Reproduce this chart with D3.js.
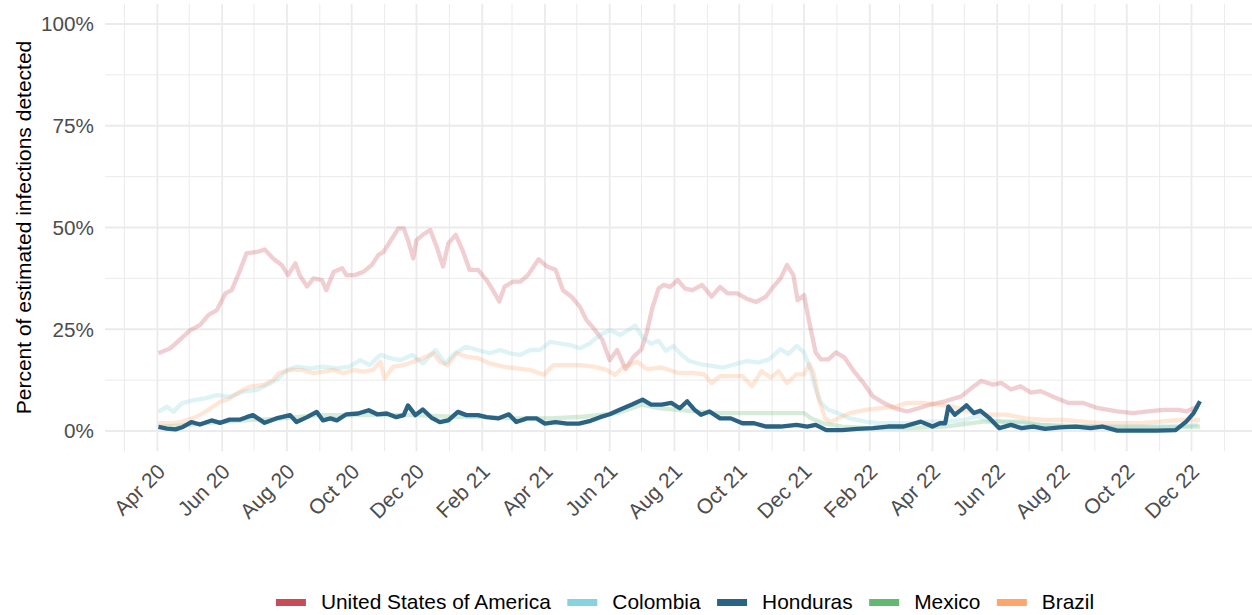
<!DOCTYPE html>
<html>
<head>
<meta charset="utf-8">
<script src="https://cdn.jsdelivr.net/npm/d3@7"></script>
<style>
  body { margin: 0; background: #fff; }
  svg { display: block; font-family: "Liberation Sans", Arial, sans-serif; }
</style>
</head>
<body>
<div id="chart"></div>
<script>
// days since 2020-04-01 and percent of estimated infections detected
var usDay = [1,12,21,31,40,48,56,64,70,78,84,94,101,109,117,123,130,134,141,147,155,159,166,174,178,186,194,202,208,213,219,227,232,236,241,244,250,257,263,269,274,281,288,294,302,310,316,322,327,335,342,349,359,367,375,382,390,398,404,411,419,426,433,441,448,456,461,466,472,477,483,490,497,504,513,522,530,537,546,555,564,573,580,587,593,599,603,609,614,620,625,632,639,647,656,665,674,684,695,706,717,728,742,757,767,776,787,795,804,813,823,832,843,858,872,886,904,919,933,948,962,969,980];
var usPct = [19.1,20.3,22.4,24.8,26,28.5,29.7,33.8,34.6,39.6,43.7,44,44.6,42.4,40.8,38.3,41.2,38.3,35.5,37.5,37.1,34.6,39.1,40,38.3,38.3,39.1,40.8,43.2,44,46.5,49.8,49.8,46.9,42.4,46.9,48.2,49.4,45.3,40.4,46.1,48.2,44,39.6,39.6,37.1,34.6,31.8,35.5,36.7,36.7,38.3,42.2,40.4,39.6,34.6,33,30.5,27.3,25.2,22.4,17.4,19.9,15.2,18.1,20.1,24.3,30.1,35,35.9,35.4,37.1,35,34.6,35.9,33,35.4,33.8,33.8,32.5,31.7,33,35.4,37.5,40.8,38.3,32.1,33.4,26.7,19.3,17.6,17.6,19.3,18.1,14.7,11.8,8.5,6.9,5.6,4.8,5.6,6.5,7.3,8.5,10.6,12.3,11.4,11.8,10.2,11,9.4,9.8,8.5,6.9,6.9,5.6,4.8,4.4,4.8,5.2,5.2,4.8,6];

var coDay = [1,9,15,23,34,45,56,68,81,94,103,112,122,131,144,156,169,181,191,200,210,219,229,240,250,262,271,280,291,302,313,323,332,342,351,360,370,379,389,398,407,417,426,436,450,457,465,472,479,486,493,501,512,522,533,544,555,566,576,587,594,602,609,614,620,625,632,641,652,667,681,695,710,724,742,760,771,782,796,814,832,850,868,886,904,922,941,959,980];
var coPct = [4.7,6.0,4.7,6.8,7.6,8.0,8.8,8.4,9.7,10.1,11.3,12.5,15,15.8,15.4,15.8,15.4,15.8,17.4,16.2,18.7,17.9,17.4,18.7,16.6,19.9,16.6,19.1,20.7,19.9,19.1,19.9,19.1,18.7,19.9,19.9,21.9,21.5,21.1,20.3,21.5,23.6,24.8,23.6,25.9,23,21.4,22.2,19.7,20.9,18.9,17.2,16.4,16,15.6,16.4,17.2,16.8,17.6,20.1,18.9,20.9,19.3,16,10.2,6.9,5.2,4.4,3.1,2.3,1.9,1.9,1.9,2.3,2.3,2.7,3.6,2.7,2.3,1.9,1.5,1.2,1.1,1.1,1.1,1.1,1.1,1.1,1.5];

var hnDay = [1,9,17,24,32,40,51,59,68,78,84,90,101,112,125,131,141,150,156,163,169,178,189,199,207,216,225,232,236,243,250,258,266,274,283,291,302,310,321,331,338,348,357,365,375,386,397,408,417,426,436,447,457,465,475,484,492,499,506,512,520,530,540,551,562,573,587,602,612,620,630,645,659,674,688,703,719,730,737,742,745,751,757,762,769,775,784,793,804,814,825,836,850,865,879,890,904,922,941,959,969,976,982];
var hnPct = [1.0,0.6,0.4,1.0,2.2,1.6,2.6,2.0,2.8,2.8,3.4,3.9,2.0,3.1,3.9,2.2,3.4,4.7,2.6,3.1,2.6,4.1,4.3,5.1,4.1,4.3,3.4,3.9,6.3,3.9,5.3,3.3,2.2,2.6,4.7,3.9,3.9,3.4,3.1,4.1,2.2,3.1,3.1,1.8,2.2,1.8,1.8,2.5,3.4,4.1,5.3,6.5,7.7,6.5,6.5,6.9,5.6,7.3,5.2,4,4.8,3.1,3.1,1.9,1.9,1.1,1.1,1.5,1.1,1.5,0.2,0.2,0.5,0.7,1.1,1.1,2.3,1.1,1.9,1.9,6,4,5.2,6.3,4.4,5,3.1,0.7,1.5,0.7,1.1,0.5,0.9,1.1,0.7,1.1,0.1,0.1,0.1,0.2,2.3,4.4,7.3];

var mxDay = [1,24,56,87,119,150,181,213,244,276,307,338,370,401,433,457,472,490,508,526,544,562,580,598,609,616,627,645,670,706,742,778,796,814,832,868,904,941,982];
var mxPct = [1.0,1.4,2.2,2.7,3.1,3.9,3.9,3.9,3.9,3.5,3.5,3.1,3.1,3.5,4.4,6.5,5.6,5.2,4.8,4.4,4.4,4.4,4.4,4.4,4.4,3.1,1.9,1.1,0.7,0.7,1.1,2.3,2.3,2.3,1.5,1.2,0.9,0.9,1.1];

var brDay = [1,12,24,37,48,59,68,78,87,100,109,114,125,137,147,156,166,175,185,194,203,210,214,222,232,241,250,260,266,273,282,291,302,313,326,338,351,364,373,386,398,411,423,431,439,452,461,475,490,504,515,522,530,540,551,560,569,578,585,593,602,609,614,618,623,629,634,641,652,667,681,695,706,721,735,749,764,782,800,818,836,854,872,890,908,926,944,962,982];
var brPct = [1.9,1.9,2.3,3.5,5.2,7.2,8.0,9.7,10.9,11.3,12.5,14.2,15,15,14.2,14.6,15,14.2,15,14.6,15,17,12.9,15.8,16.2,17,17.9,19.1,17,16.2,19.1,18.3,17.9,16.6,15.8,15.4,15,13.8,16.2,16.2,16.2,15.8,15,13.8,15.8,17,15.2,15.6,14.3,14.3,13.9,11.8,13.5,13.5,13.5,11,14.7,13.1,14.7,11.8,13.9,13.9,16.4,14.3,7.7,3.1,2.3,3.1,4.4,5.2,5.6,6,6.9,6.9,6.5,6,4.8,4,4,3.1,2.7,2.7,2.3,1.9,1.9,1.9,2.3,2.7,2.7];

var countries = ["United States of America", "Colombia", "Honduras", "Mexico", "Brazil"];
var colors = ["#c94b55", "#84d3de", "#2a6383", "#63b96f", "#ffa66e"];
var yTicks = [0, 25, 50, 75, 100];
var yMinor = [12.5, 37.5, 62.5, 87.5];

var start = new Date(Date.UTC(2020, 3, 1));

var series = [
  {name: "United States of America", day: usDay, pct: usPct},
  {name: "Colombia", day: coDay, pct: coPct},
  {name: "Mexico", day: mxDay, pct: mxPct},
  {name: "Brazil", day: brDay, pct: brPct},
  {name: "Honduras", day: hnDay, pct: hnPct}   // highlighted, drawn last
];

var width = 1252, height = 615;

var color = d3.scaleOrdinal().domain(countries).range(colors);

var x = d3.scaleUtc()
    .domain([start, new Date(Date.UTC(2022, 11, 1))])
    .range([157.4, 1191.5]);

var y = d3.scaleLinear()
    .domain([0, 100])
    .range([431, 24]);

var panel = {left: 105, right: 1252, top: y(105), bottom: y(-5)};

var svg = d3.select("#chart").append("svg")
    .attr("width", width)
    .attr("height", height);

// grid
var months = d3.utcMonth.range(new Date(Date.UTC(2020, 2, 1)), new Date(Date.UTC(2023, 0, 2)));
var grid = svg.append("g").attr("class", "grid");

grid.selectAll(".hminor")
    .data(yMinor)
  .enter().append("line")
    .attr("x1", panel.left).attr("x2", panel.right)
    .attr("y1", function(d) { return y(d); })
    .attr("y2", function(d) { return y(d); })
    .attr("stroke", "#ebebeb").attr("stroke-width", 1);

grid.selectAll(".vline")
    .data(months)
  .enter().append("line")
    .attr("x1", function(d) { return x(d); })
    .attr("x2", function(d) { return x(d); })
    .attr("y1", panel.top).attr("y2", panel.bottom)
    .attr("stroke", "#ebebeb")
    .attr("stroke-width", function(d) { return d.getUTCMonth() % 2 === 1 ? 1.8 : 1; });

grid.selectAll(".hmajor")
    .data(yTicks)
  .enter().append("line")
    .attr("x1", panel.left).attr("x2", panel.right)
    .attr("y1", function(d) { return y(d); })
    .attr("y2", function(d) { return y(d); })
    .attr("stroke", "#ebebeb").attr("stroke-width", 1.8);

// y labels
svg.append("g").selectAll("text")
    .data(yTicks)
  .enter().append("text")
    .attr("x", 94)
    .attr("y", function(d) { return y(d); })
    .attr("dy", "0.36em")
    .attr("text-anchor", "end")
    .style("font-size", "20.7px")
    .style("fill", "#4d4d4d")
    .text(function(d) { return d + "%"; });

// x labels (every 2 months)
var majors = months.filter(function(d) { return d.getUTCMonth() % 2 === 1; });
var fmt = d3.utcFormat("%b %y");
svg.append("g").selectAll("text")
    .data(majors)
  .enter().append("text")
    .attr("transform", function(d) { return "translate(" + (x(d) + 9) + ",473) rotate(-45)"; })
    .attr("text-anchor", "end")
    .style("font-size", "21px")
    .style("fill", "#4d4d4d")
    .text(fmt);

// y title
svg.append("text")
    .attr("transform", "translate(31," + ((panel.top + panel.bottom) / 2) + ") rotate(-90)")
    .attr("text-anchor", "middle")
    .style("font-size", "21px")
    .style("fill", "#000")
    .text("Percent of estimated infections detected");

// lines
var line = d3.line()
    .x(function(d) { return x(d3.utcDay.offset(start, d[0])); })
    .y(function(d) { return y(d[1]); });

svg.append("g").selectAll("path")
    .data(series)
  .enter().append("path")
    .attr("d", function(d) { return line(d3.zip(d.day, d.pct)); })
    .attr("fill", "none")
    .attr("stroke", function(d) { return color(d.name); })
    .attr("stroke-opacity", function(d) { return d.name === "Honduras" ? 1 : 0.27; })
    .attr("stroke-width", 4.3)
    .attr("stroke-linejoin", "round")
    .attr("stroke-linecap", "butt");

// legend
var legend = svg.append("g").attr("class", "legend");
var items = legend.selectAll("g")
    .data(countries)
  .enter().append("g");

items.append("rect")
    .attr("width", 30)
    .attr("height", 7)
    .attr("y", 599)
    .style("fill", color);

items.append("text")
    .attr("x", 45)
    .attr("y", 602)
    .attr("dy", "0.35em")
    .style("font-size", "20.9px")
    .style("fill", "#000")
    .text(function(d) { return d; });

// place items side by side, centred
var pos = [], cur = 0;
items.each(function() {
  var w = d3.select(this).select("text").node().getComputedTextLength();
  pos.push(cur);
  cur += 45 + w + 16.5;
});
var total = cur - 16.5;
var x0 = 685 - total / 2;
items.attr("transform", function(d, i) { return "translate(" + (x0 + pos[i]) + ",0)"; });
</script>
</body>
</html>
